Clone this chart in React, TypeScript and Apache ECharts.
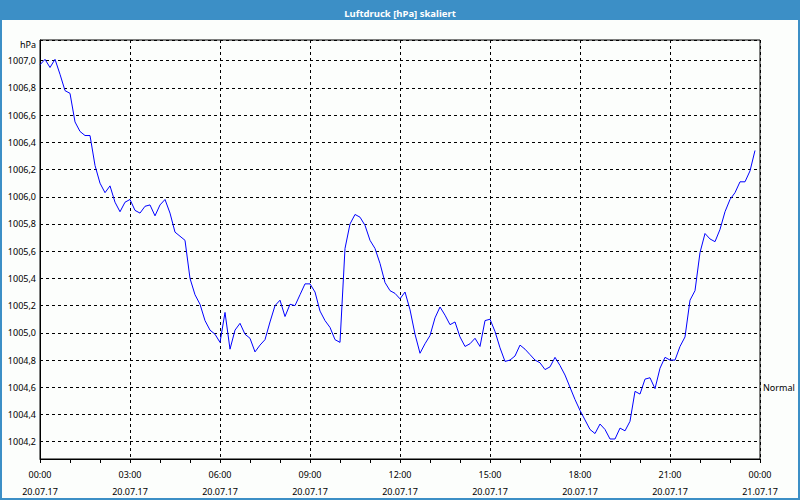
import React, { useEffect, useRef } from "react";
import * as echarts from "echarts";

// Luftdruck in hPa, one reading every 10 minutes from 20.07.17 00:00 to 23:50
const STEP_MIN = 10;
const PRESSURE = [
  1006.97, 1007.01, 1006.95, 1007.01, 1006.90, 1006.78, 1006.76, 1006.55, 1006.48, 1006.45,
  1006.45, 1006.23, 1006.10, 1006.03, 1006.08, 1005.96, 1005.89, 1005.96, 1005.98, 1005.90,
  1005.88, 1005.93, 1005.94, 1005.86, 1005.94, 1005.98, 1005.88, 1005.74, 1005.71, 1005.68,
  1005.40, 1005.28, 1005.21, 1005.09, 1005.02, 1004.99, 1004.93, 1005.15, 1004.88, 1005.02,
  1005.07, 1004.99, 1004.96, 1004.86, 1004.91, 1004.95, 1005.08, 1005.20, 1005.24, 1005.12,
  1005.21, 1005.20, 1005.28, 1005.36, 1005.36, 1005.30, 1005.16, 1005.09, 1005.04, 1004.95,
  1004.93, 1005.62, 1005.80, 1005.87, 1005.85, 1005.79, 1005.68, 1005.62, 1005.51, 1005.37,
  1005.31, 1005.29, 1005.25, 1005.30, 1005.17, 1004.99, 1004.85, 1004.92, 1004.98, 1005.11,
  1005.19, 1005.13, 1005.06, 1005.08, 1004.97, 1004.90, 1004.92, 1004.96, 1004.90, 1005.09,
  1005.10, 1005.01, 1004.89, 1004.79, 1004.80, 1004.83, 1004.91, 1004.88, 1004.84, 1004.80,
  1004.78, 1004.73, 1004.75, 1004.82, 1004.76, 1004.69, 1004.60, 1004.51, 1004.43, 1004.36,
  1004.29, 1004.26, 1004.33, 1004.29, 1004.22, 1004.22, 1004.30, 1004.28, 1004.35, 1004.57,
  1004.55, 1004.66, 1004.67, 1004.59, 1004.74, 1004.82, 1004.80, 1004.80, 1004.90, 1004.97,
  1005.24, 1005.31, 1005.59, 1005.73, 1005.69, 1005.67, 1005.76, 1005.89, 1005.98, 1006.03,
  1006.11, 1006.11, 1006.19, 1006.34,
];

const X_TICK_LABELS = [
  "00:00\n20.07.17",
  "03:00\n20.07.17",
  "06:00\n20.07.17",
  "09:00\n20.07.17",
  "12:00\n20.07.17",
  "15:00\n20.07.17",
  "18:00\n20.07.17",
  "21:00\n20.07.17",
  "00:00\n21.07.17",
];
const X_MIN = 0;
const X_MAX = 1440;
const X_INTERVAL = 180;

const Y_MIN = 1004.073;
const Y_MAX = 1007.152;
const NORMAL_VALUE = 1004.6;
const NORMAL_LABEL = "Normal";
const TITLE = "Luftdruck [hPa] skaliert";
const Y_UNIT = "hPa";

const FONT = "Noto Sans";
const BLUE = "#3c8fc6";

export default function App() {
  const ref = useRef<HTMLDivElement>(null);

  useEffect(() => {
    if (!ref.current) return;
    const chart = echarts.init(ref.current, undefined, { renderer: "svg" });
    const data = PRESSURE.map((v, i) => [i * STEP_MIN, v]);
    chart.setOption({
      animation: false,
      backgroundColor: "#fcfefc",
      textStyle: { fontFamily: FONT },
      graphic: [
        {
          type: "rect",
          z: 0,
          shape: { x: 0, y: 0, width: 800, height: 20 },
          style: { fill: BLUE },
        },
        {
          type: "rect",
          z: 0,
          shape: { x: 1, y: 1, width: 798, height: 498 },
          style: { fill: "none", stroke: BLUE, lineWidth: 2 },
        },
      ],
      title: {
        text: TITLE,
        left: "center",
        top: 3,
        z: 10,
        textStyle: { color: "#ffffff", fontSize: 9.5, fontWeight: "bold", fontFamily: FONT },
      },
      grid: {
        left: 40,
        right: 40,
        top: 40,
        bottom: 40,
        show: true,
        borderColor: "#000",
        borderWidth: 1,
        backgroundColor: "transparent",
      },
      xAxis: {
        type: "value",
        min: X_MIN,
        max: X_MAX,
        interval: X_INTERVAL,
        axisLine: { show: true, lineStyle: { color: "#000", width: 1 } },
        axisTick: { show: true, length: 4, lineStyle: { color: "#000" } },
        minorTick: { show: true, splitNumber: 3, length: 4, lineStyle: { color: "#000" } },
        splitLine: { show: true, lineStyle: { color: "#000", type: [3, 3], width: 1 } },
        axisLabel: {
          formatter: (v: number) => X_TICK_LABELS[Math.round((v - X_MIN) / X_INTERVAL)] ?? "",
          color: "#000",
          fontSize: 9,
          lineHeight: 17,
          margin: 7,
          fontFamily: FONT,
          showMinLabel: true,
          showMaxLabel: true,
        },
      },
      yAxis: {
        type: "value",
        min: Y_MIN,
        max: Y_MAX,
        splitNumber: 15,
        name: Y_UNIT,
        nameLocation: "end",
        nameGap: -4,
        nameTextStyle: {
          color: "#000",
          fontSize: 9,
          align: "right",
          verticalAlign: "middle",
          padding: [0, 4, 0, 0],
          fontFamily: FONT,
        },
        axisLine: { show: true, lineStyle: { color: "#000", width: 1 } },
        axisTick: { show: false },
        splitLine: { show: true, lineStyle: { color: "#000", type: [3, 3], width: 1 } },
        axisLabel: {
          formatter: (v: number) => v.toFixed(1).replace(".", ","),
          color: "#000",
          fontSize: 9,
          margin: 4,
          fontFamily: FONT,
          showMinLabel: false,
          showMaxLabel: false,
        },
      },
      series: [
        {
          type: "line",
          data,
          showSymbol: false,
          symbol: "none",
          lineStyle: { color: "#0000ff", width: 1 },
          markLine: {
            silent: true,
            symbol: "none",
            lineStyle: { color: "rgba(0,0,0,0)", width: 0, type: "solid" },
            label: {
              show: true,
              position: "end",
              formatter: NORMAL_LABEL,
              color: "#000",
              fontSize: 9,
              distance: 3,
              fontFamily: FONT,
            },
            data: [{ yAxis: NORMAL_VALUE }],
          },
        },
      ],
    });
    return () => chart.dispose();
  }, []);

  return (
    <div
      ref={ref}
      style={{ position: "fixed", left: 0, top: 0, width: 800, height: 500 }}
    />
  );
}
